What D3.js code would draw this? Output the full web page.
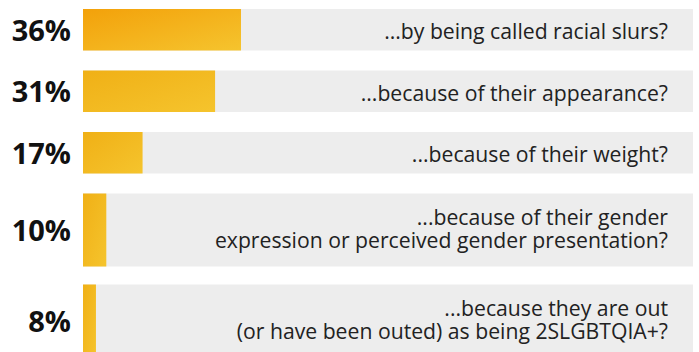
<!DOCTYPE html>
<html>
<head>
<meta charset="utf-8">
<script src="https://cdn.jsdelivr.net/npm/d3@7"></script>
<style>
  html, body { margin: 0; padding: 0; background: #ffffff; }
  svg { display: block; }
</style>
</head>
<body>
<svg id="chart" width="699" height="352"></svg>
<script>
// Share of respondents reporting each kind of harassment
const questions = [
  "...by being called racial slurs?",
  "...because of their appearance?",
  "...because of their weight?",
  "...because of their gender\nexpression or perceived gender presentation?",
  "...because they are out\n(or have been outed) as being 2SLGBTQIA+?"
];
const percents = [36, 31, 17, 10, 8];
const percentLabels = ["36%", "31%", "17%", "10%", "8%"];

const svg = d3.select("#chart");

const left = 83, right = 693;
const top0 = 9, gap = 20;
const rowH1 = 41.5, rowH2 = 73;

// Row layout depends on how many lines each question needs
const rows = questions.map((q, i) => ({
  q, lines: q.split("\n"), v: percents[i], lab: percentLabels[i], i
}));
let yCursor = top0;
rows.forEach(r => {
  r.h = r.lines.length > 1 ? rowH2 : rowH1;
  r.y = yCursor;
  yCursor += r.h + (r.lines.length > 1 ? gap - 2 : gap);
});

const x = d3.scaleLinear().domain([5.5, 100]).range([0, 489.5]);

const defs = svg.append("defs");
const gradStops = [
  ["#f3a10a", "#f5c42e"],
  ["#f0b016", "#f5c42d"]
];
gradStops.forEach((s, k) => {
  const g = defs.append("linearGradient")
    .attr("id", "barGrad" + k)
    .attr("x1", "0%").attr("y1", "0%")
    .attr("x2", "100%").attr("y2", "100%");
  g.append("stop").attr("offset", "0%").attr("stop-color", s[0]);
  g.append("stop").attr("offset", "100%").attr("stop-color", s[1]);
});

const row = svg.selectAll("g.row").data(rows).join("g").attr("class", "row");

// Grey track spanning the full width
row.append("rect")
  .attr("x", left).attr("y", d => d.y)
  .attr("width", right - left).attr("height", d => d.h)
  .attr("fill", "#ededed");

// Value bar
row.append("rect")
  .attr("x", left).attr("y", d => d.y)
  .attr("width", d => x(d.v)).attr("height", d => d.h)
  .attr("fill", d => d.i === 0 ? "url(#barGrad0)" : "url(#barGrad1)");

// Percentage label on the left
row.append("text")
  .attr("x", 71)
  .attr("y", d => d.y + d.h / 2 + 11)
  .attr("text-anchor", "end")
  .attr("font-family", "'Open Sans', sans-serif")
  .attr("font-weight", 700)
  .attr("font-size", 29)
  .attr("fill", "#111111")
  .text(d => d.lab);

// Question text, right-aligned inside the track
const lineH = 23;
row.append("text")
  .attr("text-anchor", "end")
  .attr("font-family", "'Open Sans', sans-serif")
  .attr("font-size", 21.2)
  .attr("fill", "#222222")
  .each(function(d) {
    const t = d3.select(this);
    const n = d.lines.length;
    const base = n === 1 ? d.y + d.h / 2 + 9.5 : d.y + d.h / 2 + 6 - (n - 1) * lineH / 2;
    d.lines.forEach((ln, k) => {
      t.append("tspan").attr("x", 668).attr("y", base + k * lineH).text(ln);
    });
  });
</script>
</body>
</html>
